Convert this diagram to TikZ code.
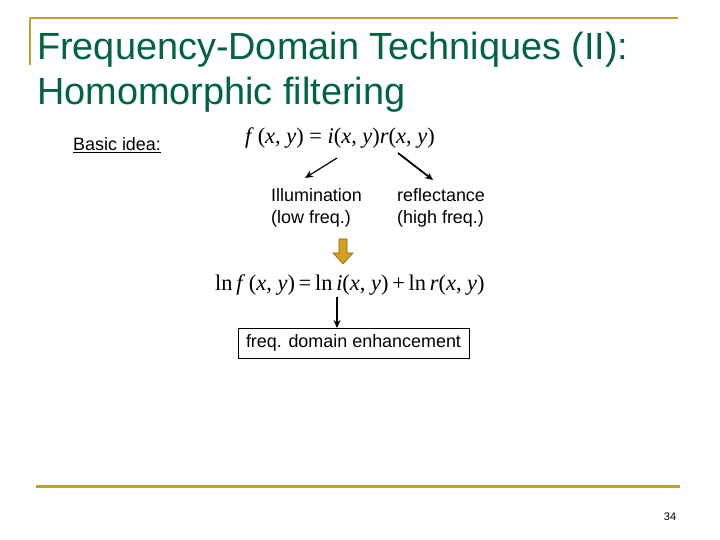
\documentclass[tikz,border=0pt]{standalone}
\usepackage{fontspec}
\setmainfont{Liberation Sans}
\newfontfamily\tms{Liberation Serif}
\usetikzlibrary{arrows.meta}
\definecolor{gold}{RGB}{196,160,40}
\definecolor{titlegreen}{RGB}{0,100,60}
\definecolor{arrowfill}{RGB}{210,160,30}
\definecolor{arrowline}{RGB}{140,100,20}
\tikzset{
  body/.style={font=\fontsize{18}{21}\selectfont, inner sep=0pt},
  eq/.style={font=\tms\fontsize{22.5}{26}\selectfont, inner sep=0pt},
  conn/.style={-{Stealth[length=8pt,width=7pt]}, line width=1.2pt},
  ttl/.style={anchor=base west, inner sep=0pt, text=titlegreen, font=\fontsize{38}{44}\selectfont},
}
\begin{document}
\begin{tikzpicture}[x=1bp,y=-1bp]
\useasboundingbox (0,0) rectangle (720,540);
% decoration
\draw[gold, line width=2.5bp] (30,18) -- (678,18);
\draw[gold, line width=2.5bp] (30,18) -- (30,65);
\draw[gold, line width=3bp] (36,486) -- (680,486);
% title
\node[ttl] (t1) at (37,60) {Frequency-Domain Techniques (II):};
\node[ttl] (t2) at (37,105) {Homomorphic filtering};
% basic idea
\node[body, anchor=base west] (basic) at (73,151) {\underline{Basic idea:}};
\node[eq, anchor=base west] (eq1) at (245,144) {\textit{f}\,(\textit{x}, \textit{y}) = \textit{i}(\textit{x}, \textit{y})\textit{r}(\textit{x}, \textit{y})};
\coordinate (la) at (337,158);
\coordinate (ra) at (398,153);
\node[body, anchor=base west] (illum) at (271,202) {Illumination};
\node[body, anchor=base west] (lowf) at (271,224) {(low freq.)};
\node[body, anchor=base west] (refl) at (397,202) {reflectance};
\node[body, anchor=base west] (highf) at (397,224) {(high freq.)};
\coordinate (lt) at (305,178);
\coordinate (rt) at (433,180);
\draw[conn] (la) -- (lt);
\draw[conn, line width=1.8pt] (ra) -- (rt);
% fat arrow
\filldraw[fill=arrowfill, draw=arrowline, line width=0.6pt]
  (339,239) -- (347,239) -- (347,253) -- (353,253) -- (343,264) -- (333,253) -- (339,253) -- cycle;
% equation 2
\node[eq, anchor=base west] (eq2) at (215,290) {ln\,\textit{f}\,(\textit{x}, \textit{y})\,=\,ln\,\textit{i}(\textit{x}, \textit{y})\,+\,ln\,\textit{r}(\textit{x}, \textit{y})};
\node[body, draw, line width=0.8pt, inner xsep=8pt, inner ysep=6pt, minimum height=30bp] (box) at (353.5,343) {freq. domain enhancement};
\coordinate (da) at (337,297);
\draw[conn] (da) -- (337,328);
% page number
\node[anchor=base, inner sep=0pt, font=\fontsize{11}{13}\selectfont] (pg) at (670,520) {34};
\end{tikzpicture}
\end{document}
